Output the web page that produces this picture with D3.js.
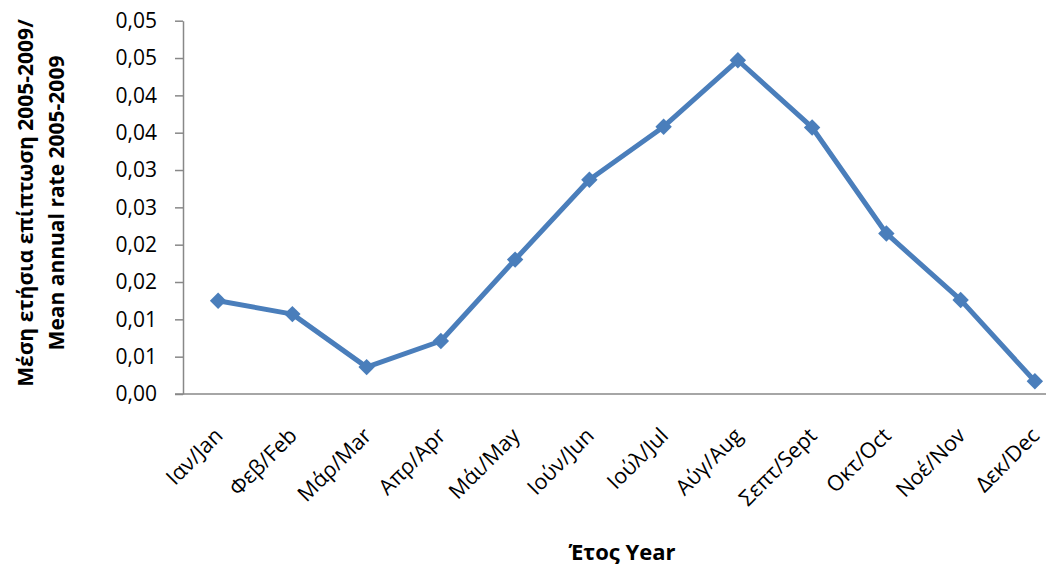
<!DOCTYPE html>
<html>
<head>
<meta charset="utf-8">
<script src="https://cdn.jsdelivr.net/npm/d3@7/dist/d3.min.js"></script>
<style>
  html, body { margin: 0; padding: 0; background: #fff; }
  svg { display: block; }
  text { font-family: "Open Sans", "Noto Sans", sans-serif; fill: #000; }
</style>
</head>
<body>
<svg id="chart" width="1046" height="574"></svg>
<script>
// Monthly categories (Greek/English)
const months = ["Ιαν/Jan", "Φεβ/Feb", "Μάρ/Mar", "Απρ/Apr", "Μάι/May", "Ιούν/Jun",
                "Ιούλ/Jul", "Αύγ/Aug", "Σεπτ/Sept", "Οκτ/Oct", "Νοέ/Nov", "Δεκ/Dec"];
// Mean annual rate 2005-2009 per month
const rates = [0.0125, 0.0107, 0.0036, 0.0071, 0.0180, 0.0287,
               0.0358, 0.0447, 0.0357, 0.0215, 0.0126, 0.0017];
// Y tick values (labels are shown rounded half-up to two decimals)
const yTicks = [0, 0.005, 0.01, 0.015, 0.02, 0.025, 0.03, 0.035, 0.04, 0.045, 0.05];

const yTitleLines = ["Μέση ετήσια επίπτωση 2005-2009/", "Mean annual rate 2005-2009"];
const xTitle = "Έτος Year";

const svg = d3.select("#chart");
const plotLeft = 183, plotBottom = 394, plotTop = 20.7;

const x = d3.scaleBand().domain(months).range([181, 1072]).padding(0);
const y = d3.scaleLinear().domain([0, 0.05]).range([plotBottom, plotTop]);

const fmt = v => (Math.round(v * 100 + 1e-9) / 100).toFixed(2).replace(".", ",");

// Y axis
const yAxis = svg.append("g")
  .attr("transform", `translate(${plotLeft},0)`)
  .call(d3.axisLeft(y).tickValues(yTicks).tickFormat(fmt).tickSize(8).tickSizeOuter(0).tickPadding(18));
yAxis.select(".domain").attr("stroke", "#888").attr("stroke-width", 1.5);
yAxis.selectAll(".tick line").attr("stroke", "#888").attr("stroke-width", 1.5);
yAxis.selectAll(".tick text").style("font-size", "21px").attr("fill", "#222");

// X axis baseline
svg.append("line")
  .attr("x1", plotLeft - 8).attr("x2", 1046)
  .attr("y1", plotBottom).attr("y2", plotBottom)
  .attr("stroke", "#888").attr("stroke-width", 1.5);

// X category labels, rotated
svg.append("g").selectAll("text")
  .data(months)
  .join("text")
  .attr("transform", d => `translate(${x(d) + x.bandwidth() / 2 + 6},${plotBottom + 43}) rotate(-45)`)
  .attr("text-anchor", "end")
  .style("font-size", "21.5px")
  .attr("fill", "#222")
  .text(d => d);

// Series line
const cx = d => x(d) + x.bandwidth() / 2;
svg.append("path")
  .datum(months.map((m, i) => [cx(m), y(rates[i])]))
  .attr("fill", "none")
  .attr("stroke", "#4a7ebb")
  .attr("stroke-width", 5)
  .attr("stroke-linejoin", "round")
  .attr("d", d3.line());

// Diamond markers
svg.append("g").selectAll("path")
  .data(months)
  .join("path")
  .attr("transform", (d, i) => `translate(${cx(d)},${y(rates[i])}) rotate(45)`)
  .attr("d", d3.symbol(d3.symbolSquare, 135))
  .attr("fill", "#4a7ebb");

// Axis titles
const yt = svg.append("text")
  .attr("transform", "translate(33,203) rotate(-90)")
  .attr("text-anchor", "middle")
  .style("font-size", "21px")
  .style("font-weight", "bold");
yt.selectAll("tspan").data(yTitleLines).join("tspan")
  .attr("x", 0).attr("dy", (d, i) => i === 0 ? 0 : 31)
  .text(d => d);

svg.append("text")
  .attr("x", 622).attr("y", 560)
  .attr("text-anchor", "middle")
  .style("font-size", "22px")
  .style("font-weight", "bold")
  .text(xTitle);
</script>
</body>
</html>
